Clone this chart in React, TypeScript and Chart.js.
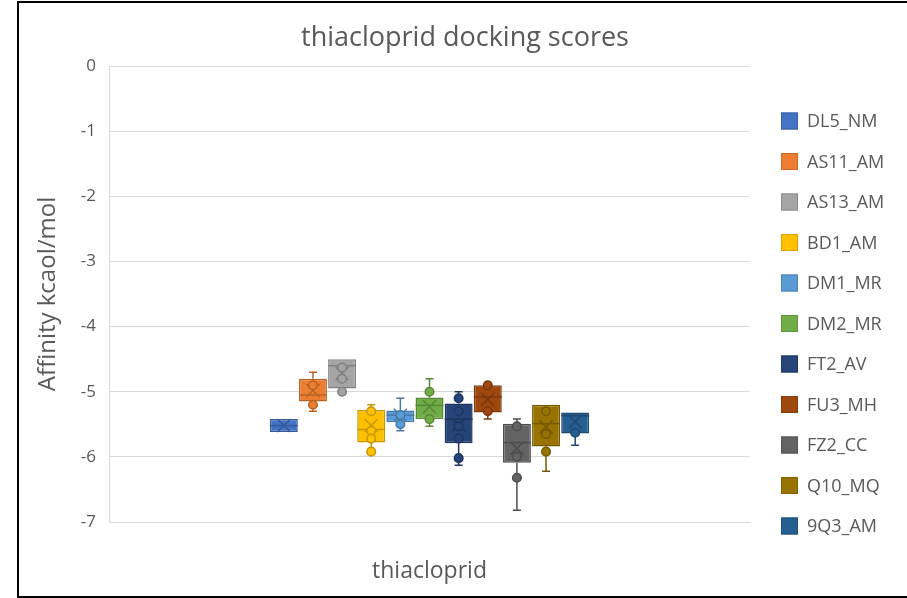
import React, { useEffect, useRef } from "react";
import { Chart, registerables } from "chart.js";

Chart.register(...registerables);

// ---- data ----
const categories = ["thiacloprid"];
const seriesNames = [
  "DL5_NM", "AS11_AM", "AS13_AM", "BD1_AM", "DM1_MR", "DM2_MR",
  "FT2_AV", "FU3_MH", "FZ2_CC", "Q10_MQ", "9Q3_AM",
];
const seriesColors = [
  "#4472C4", "#ED7D31", "#A5A5A5", "#FFC000", "#5B9BD5", "#70AD47",
  "#264478", "#9E480E", "#636363", "#997300", "#255E91",
];
const boxQ1 = [-5.62, -5.15, -4.95, -5.78, -5.47, -5.42, -5.79, -5.32, -6.09, -5.84, -5.64];
const boxQ3 = [-5.42, -4.8, -4.5, -5.28, -5.29, -5.09, -5.18, -4.9, -5.49, -5.2, -5.32];
const medians = [-5.52, -5.05, -4.6, -5.58, -5.36, -5.21, -5.42, -5.08, -5.78, -5.49, -5.37];
const means = [-5.52, -4.98, -4.72, -5.52, -5.36, -5.23, -5.51, -5.12, -5.87, -5.54, -5.46];
const whiskerMin = [-5.62, -5.3, -5.0, -5.9, -5.6, -5.53, -6.13, -5.42, -6.82, -6.22, -5.82];
const whiskerMax = [-5.42, -4.7, -4.5, -5.2, -5.1, -4.8, -5.0, -4.9, -5.42, -5.2, -5.32];
const pointValues = [
  [],
  [-4.9, -5.2],
  [-4.63, -4.8, -5.0],
  [-5.3, -5.6, -5.72, -5.92],
  [-5.36, -5.5],
  [-5.0, -5.42],
  [-5.1, -5.3, -5.53, -5.72, -6.02],
  [-4.9, -5.3],
  [-5.53, -6.0, -6.32],
  [-5.3, -5.65, -5.92],
  [-5.63],
];
const yMin = -7;
const yMax = 0;
const yStep = 1;
const chartTitle = "thiacloprid docking scores";
const yAxisTitle = "Affinity kcaol/mol";

// ---- helpers ----
function darker(hex: string, f = 0.78): string {
  const n = parseInt(hex.slice(1), 16);
  const r = Math.round(((n >> 16) & 255) * f);
  const g = Math.round(((n >> 8) & 255) * f);
  const b = Math.round((n & 255) * f);
  return `rgb(${r},${g},${b})`;
}

const TEXT = "#595959";
const GRID = "#D9D9D9";
const FONT = '"Open Sans", sans-serif';

const boxPlugin = {
  id: "boxDetails",
  beforeDatasetsDraw(chart: any) {
    const ctx = chart.ctx;
    const ys = chart.scales.y;
    ctx.save();
    seriesNames.forEach((_, i) => {
      const meta = chart.getDatasetMeta(i);
      const bar = meta.data[0];
      if (!bar) return;
      const x = bar.x;
      const c = darker(seriesColors[i]);
      ctx.strokeStyle = c;
      ctx.lineWidth = 1.5;
      const cap = 4;
      const pairs: [number, number][] = [
        [boxQ3[i], whiskerMax[i]],
        [boxQ1[i], whiskerMin[i]],
      ];
      pairs.forEach(([from, to]) => {
        if (Math.abs(from - to) < 1e-9) return;
        const y1 = ys.getPixelForValue(from);
        const y2 = ys.getPixelForValue(to);
        ctx.beginPath();
        ctx.moveTo(x, y1);
        ctx.lineTo(x, y2);
        ctx.moveTo(x - cap, y2);
        ctx.lineTo(x + cap, y2);
        ctx.stroke();
      });
    });
    ctx.restore();
  },
  afterDatasetsDraw(chart: any) {
    const ctx = chart.ctx;
    const ys = chart.scales.y;
    ctx.save();
    seriesNames.forEach((_, i) => {
      const meta = chart.getDatasetMeta(i);
      const bar = meta.data[0];
      if (!bar) return;
      const x = bar.x;
      const w = bar.width;
      const c = darker(seriesColors[i]);
      ctx.strokeStyle = c;
      ctx.lineWidth = 1.5;
      // median
      const ym = ys.getPixelForValue(medians[i]);
      ctx.beginPath();
      ctx.moveTo(x - w / 2, ym);
      ctx.lineTo(x + w / 2, ym);
      ctx.stroke();
      // mean X
      const ya = ys.getPixelForValue(means[i]);
      const s = 6.5;
      ctx.beginPath();
      ctx.moveTo(x - s, ya - s);
      ctx.lineTo(x + s, ya + s);
      ctx.moveTo(x + s, ya - s);
      ctx.lineTo(x - s, ya + s);
      ctx.stroke();
      // points
      pointValues[i].forEach((v) => {
        const yp = ys.getPixelForValue(v);
        ctx.beginPath();
        ctx.arc(x, yp, 4.3, 0, Math.PI * 2);
        ctx.fillStyle = seriesColors[i];
        ctx.fill();
        ctx.stroke();
      });
    });
    ctx.restore();
  },
};

const legendPlugin = {
  id: "sideLegend",
  afterDraw(chart: any) {
    const ctx = chart.ctx;
    const area = chart.chartArea;
    const bx = area.right + 31;
    ctx.save();
    ctx.font = `18px ${FONT}`;
    ctx.textBaseline = "middle";
    ctx.textAlign = "left";
    seriesNames.forEach((name, i) => {
      const cy = area.top + 55 + i * 40.5;
      ctx.fillStyle = seriesColors[i];
      ctx.fillRect(bx, cy - 8.5, 17, 17);
      ctx.strokeStyle = darker(seriesColors[i], 0.85);
      ctx.lineWidth = 1;
      ctx.strokeRect(bx + 0.5, cy - 8, 16, 16);
      ctx.fillStyle = TEXT;
      ctx.fillText(name, bx + 26, cy + 1);
    });
    ctx.restore();
  },
};

const framePlugin = {
  id: "frame",
  afterDraw(chart: any) {
    const ctx = chart.ctx;
    ctx.save();
    ctx.strokeStyle = "#000";
    ctx.lineWidth = 2;
    ctx.beginPath();
    ctx.moveTo(chart.width, 2);
    ctx.lineTo(18, 2);
    ctx.lineTo(18, 597);
    ctx.lineTo(chart.width, 597);
    ctx.stroke();
    ctx.restore();
  },
};

export default function App() {
  const ref = useRef<HTMLCanvasElement | null>(null);
  useEffect(() => {
    if (!ref.current) return;
    Chart.defaults.font.family = FONT;
    Chart.defaults.color = TEXT;
    const chart = new Chart(ref.current, {
      type: "bar",
      data: {
        labels: categories,
        datasets: seriesNames.map((name, i) => ({
          label: name,
          data: [[boxQ1[i], boxQ3[i]]] as any,
          backgroundColor: seriesColors[i],
          borderColor: darker(seriesColors[i]),
          borderWidth: 1.5,
          borderSkipped: false,
          barPercentage: 0.96,
          categoryPercentage: 0.5,
        })),
      },
      options: {
        responsive: false,
        animation: false,
        layout: { padding: { left: 23, right: 0, top: 0, bottom: 0 } },
        plugins: {
          legend: { display: false },
          tooltip: { enabled: false },
          title: {
            display: true,
            text: chartTitle,
            color: TEXT,
            font: { size: 27, weight: "normal", family: FONT },
            padding: { top: 22, bottom: 11.6 },
          },
        },
        scales: {
          x: {
            grid: { display: false, drawTicks: false },
            border: { display: true, color: GRID },
            ticks: { color: TEXT, font: { size: 23 }, padding: 36 },
            afterFit: (s: any) => {
              s.height = 76;
            },
          },
          y: {
            min: yMin,
            max: yMax,
            ticks: { stepSize: yStep, color: TEXT, font: { size: 17 }, padding: 13 },
            grid: { color: GRID, drawTicks: false },
            border: { display: true, color: GRID },
            title: {
              display: true,
              text: yAxisTitle,
              color: TEXT,
              font: { size: 24 },
              padding: { top: 10.6, bottom: 0 },
            },
            afterFit: (s: any) => {
              s.width = 86;
            },
          },
          yRight: {
            position: "right",
            display: true,
            grid: { display: false, drawTicks: false },
            border: { display: false },
            ticks: { display: false },
            afterFit: (s: any) => {
              s.width = 157;
            },
          },
        },
      } as any,
      plugins: [boxPlugin, legendPlugin, framePlugin],
    });
    return () => chart.destroy();
  }, []);
  return (
    <div style={{ position: "fixed", left: 0, top: 0, width: 907, height: 598, background: "#fff" }}>
      <canvas ref={ref} width={907} height={598} />
    </div>
  );
}
